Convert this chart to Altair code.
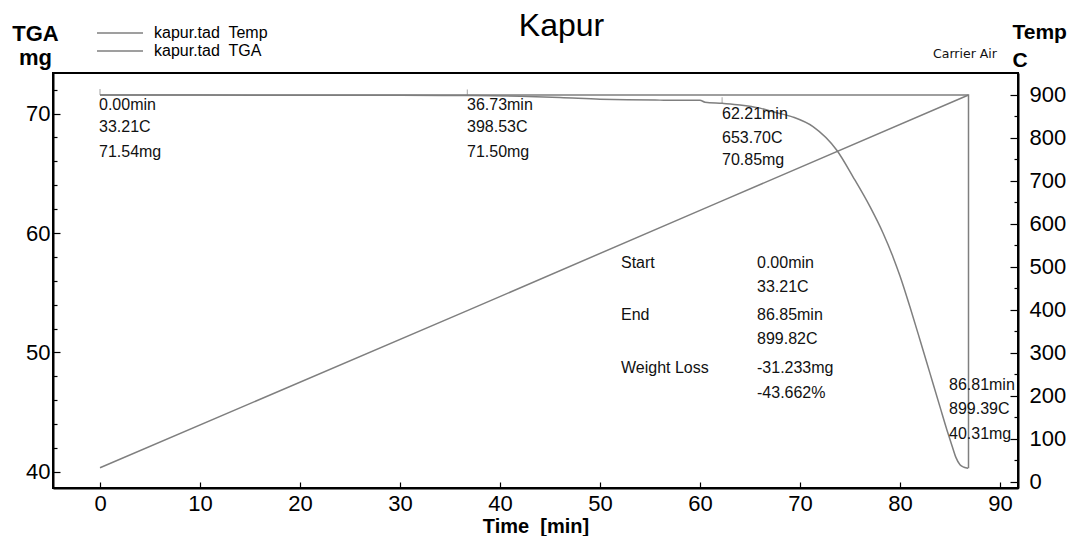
import altair as alt
import pandas as pd

FONT = "Liberation Sans"
GRAY = "#7f7f7f"

# ---- data ----
tga_time = [0, 10, 20, 30, 36.73, 42, 46, 50, 52.7, 56, 60, 60.5, 62.21, 64, 66, 67.5,
            69.3, 71.3, 73.7, 75.3, 77, 78.3, 79.3, 80, 81, 82, 83, 84, 84.7, 85.2,
            85.6, 86.0, 86.4, 86.81]
tga_mass = [71.54, 71.54, 71.53, 71.52, 71.50, 71.45, 71.35, 71.2, 71.15, 71.12, 71.1,
            70.95, 70.85, 70.72, 70.45, 70.1, 69.7, 68.9, 66.9, 64.7, 62.2, 60.0, 58.0,
            56.4, 53.8, 51.05, 48.25, 45.45, 43.5, 42.2, 41.2, 40.6, 40.4, 40.31]
temp_time = [0, 36.73, 62.21, 86.85]
temp_c = [33.21, 398.53, 653.70, 899.82]
step_time = [0, 86.85, 86.85]
step_mass = [71.54, 71.54, 40.31]
marker_time = [0, 36.73, 62.21]
marker_mass = [71.54, 71.50, 70.85]

series_temp = "kapur.tad\u00a0 Temp"
series_tga = "kapur.tad\u00a0 TGA"

ann_text = ["0.00min", "33.21C", "71.54mg",
            "36.73min", "398.53C", "71.50mg",
            "62.21min", "653.70C", "70.85mg",
            "Start", "0.00min", "33.21C",
            "End", "86.85min", "899.82C",
            "Weight Loss", "-31.233mg", "-43.662%",
            "86.81min", "899.39C", "40.31mg"]
ann_x = [-0.1, -0.1, -0.1,
         36.7, 36.7, 36.7,
         62.2, 62.2, 62.2,
         52.1, 65.7, 65.7,
         52.1, 65.7, 65.7,
         52.1, 65.7, 65.7,
         84.9, 84.9, 84.9]
ann_y = [70.75, 68.83, 66.82,
         70.75, 68.83, 66.82,
         70.0, 67.99, 66.15,
         57.45, 57.45, 55.52,
         53.10, 53.10, 51.17,
         48.74, 48.74, 46.65,
         47.24, 45.23, 43.14]

note_text = ["Carrier Air"]
note_x = [86.5]
note_y = [75.0]

x_ticks = list(range(0, 100, 10))
left_ticks = list(range(40, 74, 2))
right_ticks = list(range(0, 950, 50))

# ---- tables ----
df_tga = pd.DataFrame({"t": tga_time, "v": tga_mass, "series": series_tga})
df_temp = pd.DataFrame({"t": temp_time, "v": temp_c, "series": series_temp})
df_step = pd.DataFrame({"t": step_time, "v": step_mass, "o": list(range(len(step_time)))})
df_mark = pd.DataFrame({"t": marker_time, "v": marker_mass})
df_ann = pd.DataFrame({"t": ann_x, "v": ann_y, "label": ann_text})
df_note = pd.DataFrame({"t": note_x, "v": note_y, "label": note_text})

x_scale = alt.Scale(domain=[-4.7, 91.8], nice=False, zero=False)
y_left = alt.Scale(domain=[38.66, 73.39], nice=False, zero=False)
y_right = alt.Scale(domain=[-14, 951], nice=False, zero=False)

color_scale = alt.Scale(domain=[series_temp, series_tga], range=[GRAY, GRAY])

x_axis = alt.Axis(
    values=x_ticks, title="Time\u00a0 [min]", titleFontSize=20, titleFontWeight="bold",
    titleFont=FONT, titleColor="black", titleY=44, titleBaseline="alphabetic",
    labelFontSize=22, labelFont=FONT, labelColor="black", labelPadding=11,
    tickSize={"expr": "-6"}, tickColor="black", tickWidth=1.2,
    domainColor="black", domainWidth=2, grid=False, labelFlush=False,
)
left_axis = alt.Axis(
    values=left_ticks, labelExpr="datum.value % 10 === 0 ? datum.label : ''",
    title=["TGA", "mg"], titleAngle=0, titleAlign="center", titleBaseline="alphabetic",
    titleX=-18, titleY=-33, titleLineHeight=24, titleFontSize=22, titleFontWeight="bold",
    titleFont=FONT, titleColor="black",
    labelFontSize=22, labelFont=FONT, labelColor="black", labelPadding=10,
    tickSize={"expr": "-7"}, tickColor="black", tickWidth=1.2,
    tickDash={"condition": {"test": "datum.value % 10 !== 0", "value": [4, 20]}, "value": []},
    domainColor="black", domainWidth=2, grid=False, labelFlush=False,
)
right_axis = alt.Axis(
    orient="right", values=right_ticks,
    labelExpr="datum.value % 100 === 0 ? datum.label : ''",
    title=["Temp", "C"], titleAngle=0, titleAlign="left", titleBaseline="alphabetic",
    titleX=-6, titleY=-35, titleLineHeight=28, titleFontSize=21, titleFontWeight="bold",
    titleFont=FONT, titleColor="black",
    labelFontSize=22, labelFont=FONT, labelColor="black", labelPadding=19,
    tickSize={"expr": "-8"}, tickColor="black", tickWidth=1.2,
    tickDash={"condition": {"test": "datum.value % 100 !== 0", "value": [4, 20]}, "value": []},
    domainColor="black", domainWidth=2, grid=False, labelFlush=False,
)

legend = alt.Legend(
    title=None, orient="none", legendX=57, legendY=-50, direction="vertical",
    symbolType="M-2.5,0H2.5", symbolSize=339, symbolStrokeWidth=1.3,
    labelFontSize=16, labelFont=FONT, labelColor="black", labelOffset=24,
    rowPadding=0, padding=0,
)

X = alt.X("t:Q", scale=x_scale, axis=x_axis)
YL = alt.Y("v:Q", scale=y_left, axis=left_axis)
YR = alt.Y("v:Q", scale=y_right, axis=right_axis)

tga_line = alt.Chart(df_tga).mark_line(strokeWidth=1.5, interpolate="monotone").encode(
    x=X, y=YL,
    color=alt.Color("series:N", scale=color_scale, legend=legend),
)
step_line = alt.Chart(df_step).mark_line(strokeWidth=1.5, color=GRAY).encode(
    x=X, y=YL, order="o:Q",
)
markers = alt.Chart(df_mark).mark_tick(orient="vertical", size=6, thickness=1, color=GRAY, yOffset=-3).encode(
    x=X, y=YL,
)
ann = alt.Chart(df_ann).mark_text(align="left", baseline="middle", font=FONT, fontSize=16, color="#111").encode(
    x=X, y=YL, text="label:N",
)
note = alt.Chart(df_note).mark_text(align="center", baseline="middle", font="DejaVu Sans", fontSize=12.5, color="#111").encode(
    x=X, y=YL, text="label:N",
)

temp_line = alt.Chart(df_temp).mark_line(strokeWidth=1.5).encode(
    x=X, y=YR,
    color=alt.Color("series:N", scale=color_scale, legend=legend),
)

left_layer = alt.layer(tga_line, step_line, markers, ann, note)
chart = alt.layer(left_layer, temp_line).resolve_scale(y="independent").properties(
    width=965, height=415,
    autosize=alt.AutoSizeParams(type="none"),
    padding={"left": 45, "top": 65, "right": 51, "bottom": 48},
    title=alt.TitleParams("Kapur", fontSize=32, font=FONT, fontWeight="normal", color="black",
                          anchor="middle", dx=26, offset=-22),
).configure(background="white").configure_view(stroke="black", strokeWidth=2)

chart.save("out.html", embed_options={"renderer": "svg", "actions": False})
